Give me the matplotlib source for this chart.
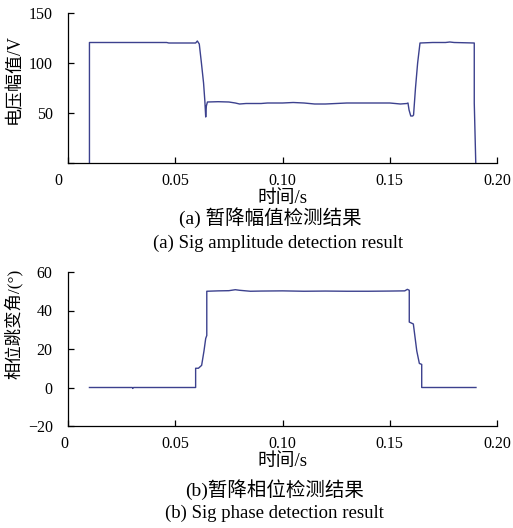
import matplotlib
matplotlib.use("Agg")
import matplotlib.pyplot as plt
import matplotlib.transforms as mtrans

plt.rcParams['font.family'] = ['Liberation Serif', 'Noto Sans CJK SC']
plt.rcParams['axes.unicode_minus'] = True

# sag amplitude (V) vs time (s)
t_amp = [0.0100, 0.0100, 0.030, 0.046, 0.047, 0.0595, 0.0603, 0.0612, 0.0622, 0.0632,
         0.0638, 0.0642, 0.0645, 0.0650, 0.070, 0.075, 0.078, 0.080, 0.083, 0.090,
         0.093, 0.100, 0.105, 0.110, 0.115, 0.120, 0.125, 0.130, 0.140, 0.150,
         0.155, 0.1580, 0.1585, 0.1590, 0.1598, 0.1607, 0.1611, 0.1620, 0.1630, 0.1641,
         0.170, 0.176, 0.178, 0.180, 0.1894, 0.1894, 0.1901]
v_amp = [0, 120.5, 120.5, 120.5, 120, 120, 122, 119, 100, 80,
         62, 46, 57, 61, 61.3, 61, 60, 59, 59.5, 59.5,
         60, 60, 60.5, 60, 59, 59, 59.5, 60, 60, 60,
         59, 59.5, 60, 53, 47, 47, 48, 75, 100, 120,
         120.5, 120.5, 121, 120.5, 120, 60, 0]

# phase jump angle (deg) vs time (s)
t_ph = [0.010, 0.030, 0.0302, 0.0305, 0.0595, 0.0595, 0.0608, 0.0623, 0.0634, 0.0642,
        0.0647, 0.0647, 0.070, 0.075, 0.078, 0.080, 0.085, 0.090, 0.100, 0.110,
        0.120, 0.130, 0.140, 0.150, 0.157, 0.1582, 0.1591, 0.1591, 0.1610, 0.1626,
        0.1638, 0.1649, 0.1649, 0.1902]
v_ph = [0, 0, -0.5, 0, 0, 10, 10, 11.5, 19, 25.5,
        27, 50, 50.2, 50.3, 50.8, 50.5, 50.0, 50.1, 50.2, 50.0,
        50.1, 50.0, 50.0, 50.1, 50.2, 51, 50.5, 34, 33, 19,
        12.5, 12, 0, 0]

xticks = [0, 0.05, 0.10, 0.15, 0.20]
xtick_labels = ['0', '0.05', '0.10', '0.15', '0.20']

line_color = '#3c418e'

fig = plt.figure(figsize=(5.13, 5.28), dpi=100)
W, H = 513, 528


def make_axes(left, top, right, bottom):
    return fig.add_axes([left / W, 1 - bottom / H, (right - left) / W, (bottom - top) / H])


def style(ax):
    for s in ['top', 'right']:
        ax.spines[s].set_visible(False)
    for s in ['left', 'bottom']:
        ax.spines[s].set_linewidth(0.9)
    ax.tick_params(direction='in', length=4, width=0.9, labelsize=11.5)
    ax.tick_params(axis='y', pad=11)
    ax.tick_params(axis='x', pad=7)
    ax.set_xlim(0, 0.20)
    ax.set_xticks(xticks)
    ax.set_xticklabels(xtick_labels)


ax1 = make_axes(68, 13, 497, 163)
ax1.plot(t_amp, v_amp, color=line_color, lw=1.0)
style(ax1)
ax1.set_ylim(0, 150)
ax1.set_yticks([0, 50, 100, 150])
ax1.set_yticklabels(['', '50', '100', '150'])
ax1.set_xlabel('时间/s', fontsize=13.5, labelpad=1)
ax1.set_ylabel('电压幅值/V', fontsize=13)
ax1.yaxis.set_label_coords(-0.105, 0.56)
lab = ax1.get_xticklabels()[0]
lab.set_transform(lab.get_transform() + mtrans.ScaledTranslation(-0.10, 0, fig.dpi_scale_trans))

ax2 = make_axes(68, 272, 497, 426)
ax2.plot(t_ph, v_ph, color=line_color, lw=1.0)
style(ax2)
ax2.set_ylim(-20, 60)
ax2.set_yticks([-20, 0, 20, 40, 60])
ax2.set_xlabel('时间/s', fontsize=13.5, labelpad=1)
ax2.set_ylabel('相位跳变角/(°)', fontsize=12.5)
ax2.yaxis.set_label_coords(-0.105, 0.66)
lab = ax2.get_xticklabels()[0]
lab.set_transform(lab.get_transform() + mtrans.ScaledTranslation(-0.04, 0, fig.dpi_scale_trans))

fig.text(270 / W, 1 - 218 / H, '(a) 暂降幅值检测结果', ha='center', va='center', fontsize=14)
fig.text(278 / W, 1 - 243 / H, '(a) Sig amplitude detection result', ha='center', va='center', fontsize=13.5)
fig.text(275 / W, 1 - 490 / H, '(b)暂降相位检测结果', ha='center', va='center', fontsize=14)
fig.text(274 / W, 1 - 513 / H, '(b) Sig phase detection result', ha='center', va='center', fontsize=13.5)

fig.savefig('out.png', dpi=100)
